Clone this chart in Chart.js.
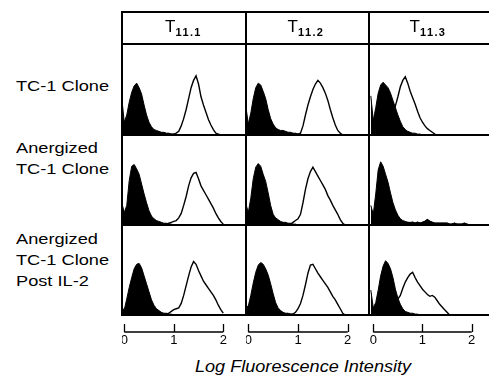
<!DOCTYPE html>
<html>
<head>
<meta charset="utf-8">
<script src="https://cdn.jsdelivr.net/npm/chart.js@4"></script>
<style>
  body { margin: 0; background: #fff; }
  #fig { position: relative; width: 489px; height: 383px; overflow: hidden; font-family: "Liberation Sans", Arial, sans-serif; color: #000; }
  .ln { position: absolute; background: #000; }
  .pan { position: absolute; }
  .hdr { position: absolute; top: 11px; height: 31px; line-height: 31px; text-align: center; font-size: 17px; }
  .hdr sub { font-size: 11px; font-weight: bold; letter-spacing: 1.4px; vertical-align: -4px; }
  .rlab { position: absolute; left: 16px; font-size: 14px; line-height: 21px; transform: scaleX(1.3); transform-origin: left center; white-space: nowrap; }
  #xtitle { position: absolute; top: 358px; left: 195px; font-size: 16px; font-style: italic; transform: scaleX(1.13); transform-origin: left center; white-space: nowrap; }
</style>
</head>
<body>
<div id="fig"></div>
<script>
// categories / labels
var colLabels = ['11.1', '11.2', '11.3'];
var rowLabels = [['TC-1 Clone'], ['Anergized', 'TC-1 Clone'], ['Anergized', 'TC-1 Clone', 'Post IL-2']];
var scaleTicks = [0, 1, 2];
var axisTitle = 'Log Fluorescence Intensity';

// log fluorescence bins (-0.05 .. 2.0), values are % of panel height; missing tail = 0
var bins = [-0.05, 0, 0.05, 0.1, 0.15, 0.2, 0.25, 0.3, 0.35, 0.4, 0.45, 0.5, 0.55, 0.6, 0.65, 0.7,
    0.75, 0.8, 0.85, 0.9, 0.95, 1.0, 1.05, 1.1, 1.15, 1.2, 1.25, 1.3, 1.35, 1.4, 1.45, 1.5, 1.55,
    1.6, 1.65, 1.7, 1.75, 1.8, 1.85, 1.9, 1.95, 2.0];

// control (filled) histograms
var ctrlR1C1 = [40, 14, 22, 36, 47, 54, 57, 52, 45, 33, 22, 14, 9, 6, 5, 4, 3, 3, 2, 2, 1, 1];
var ctrlR1C2 = [32, 12, 24, 40, 52, 57, 55, 48, 40, 28, 18, 12, 8, 6, 5, 5, 4, 3, 3, 2, 2, 1, 1];
var ctrlR1C3 = [43, 16, 30, 46, 55, 58, 55, 52, 46, 38, 30, 22, 15, 9, 6, 4, 3, 2, 2, 1, 1];
var ctrlR2C1 = [25, 14, 22, 50, 66, 68, 63, 57, 46, 35, 25, 16, 10, 7, 5, 4, 3, 2, 2, 1, 1];
var ctrlR2C2 = [24, 14, 30, 52, 65, 69, 66, 57, 49, 36, 22, 12, 8, 6, 4, 3, 3, 2, 2, 1, 1];
var ctrlR2C3 = [22, 12, 35, 62, 71, 66, 57, 48, 36, 25, 17, 11, 7, 5, 4, 3, 3, 3, 2, 3, 2, 3, 4, 6, 4,
    3, 2, 2, 2, 2, 2, 2, 1, 1, 2, 1, 1, 1, 2, 1];
var ctrlR3C1 = [8, 6, 18, 31, 42, 52, 57, 58, 53, 44, 35, 26, 17, 11, 7, 5, 3, 2, 2, 1, 1];
var ctrlR3C2 = [9, 10, 22, 36, 48, 56, 59, 57, 52, 45, 35, 24, 14, 8, 5, 3, 2, 2, 1, 1];
var ctrlR3C3 = [28, 8, 14, 28, 44, 55, 61, 58, 52, 42, 29, 19, 12, 7, 4, 3, 2, 2, 1, 1];

// T11 antibody (open) histograms
var stainR1C1 = [0, 0, 0, 0, 0, 0, 0, 0, 0, 0, 0, 1, 1, 1, 1, 1, 1, 1, 1, 1, 1, 1,
    2, 4, 10, 18, 28, 40, 52, 60, 65, 56, 42, 33, 25, 17, 11, 6, 2, 1];
var stainR1C2 = [0, 0, 0, 0, 0, 0, 0, 0, 0, 0, 0, 1, 1, 1, 1, 1, 1, 1, 1, 1, 1, 1,
    2, 10, 22, 33, 42, 50, 56, 60, 57, 52, 46, 38, 28, 19, 11, 5, 2];
var stainR1C3 = [0, 0, 1, 2, 3, 4, 6, 8, 14, 22, 32, 42, 53, 60, 64, 57, 48, 41, 34, 26, 19, 14,
    10, 7, 5, 3, 1];
var stainR2C1 = [0, 0, 0, 0, 0, 0, 0, 0, 0, 0, 0, 1, 1, 1, 1, 1, 1, 1, 1, 2, 3, 4,
    5, 8, 13, 22, 32, 44, 53, 58, 59, 52, 44, 39, 34, 29, 24, 19, 13, 8, 4, 1];
var stainR2C2 = [0, 0, 0, 0, 0, 0, 0, 0, 0, 0, 0, 1, 1, 1, 1, 1, 1, 1, 1, 3, 5, 7,
    12, 25, 40, 52, 60, 65, 60, 55, 50, 45, 40, 33, 28, 22, 17, 12, 6, 2];
var stainR2C3 = [0, 0, 0, 0, 0, 0, 0, 0, 0, 0, 0, 1, 2, 3, 3, 3, 2, 3, 2, 3, 2, 3,
    4, 6, 4, 3, 2, 2, 2, 2, 2, 2, 1, 1, 2, 1, 1, 1, 2, 1];
var stainR3C1 = [0, 0, 0, 0, 0, 0, 0, 0, 0, 0, 0, 1, 1, 1, 1, 1, 1, 1, 1, 2, 4, 6,
    7, 8, 13, 22, 33, 44, 54, 60, 57, 50, 44, 38, 34, 30, 26, 22, 17, 11, 6, 2];
var stainR3C2 = [0, 0, 0, 0, 0, 0, 0, 0, 0, 0, 0, 1, 1, 1, 1, 1, 1, 1, 1, 1, 3, 7,
    13, 22, 34, 47, 56, 57, 52, 47, 43, 39, 35, 31, 26, 21, 17, 12, 7, 2];
var stainR3C3 = [0, 0, 0, 0, 1, 1, 2, 3, 6, 10, 14, 18, 22, 30, 37, 42, 46, 48, 42, 37, 33, 29,
    26, 23, 21, 22, 20, 16, 12, 9, 6, 3];

var ctrl = [[ctrlR1C1, ctrlR1C2, ctrlR1C3], [ctrlR2C1, ctrlR2C2, ctrlR2C3], [ctrlR3C1, ctrlR3C2, ctrlR3C3]];
var stain = [[stainR1C1, stainR1C2, stainR1C3], [stainR2C1, stainR2C2, stainR2C3], [stainR3C1, stainR3C2, stainR3C3]];

// layout
var cols = [{ left: 122, w: 123, min: -0.046, max: 2.439 },
            { left: 246, w: 122, min: -0.046, max: 2.408 },
            { left: 369, w: 120, min: -0.087, max: 2.352 }];
var rows = [{ top: 44, h: 91 }, { top: 136, h: 89 }, { top: 226, h: 89 }];
var axisH = 40;

var fig = document.getElementById('fig');

function line(x, y, w, h) {
    var d = document.createElement('div');
    d.className = 'ln';
    d.style.left = x + 'px'; d.style.top = y + 'px';
    d.style.width = w + 'px'; d.style.height = h + 'px';
    fig.appendChild(d);
}

function pts(arr) {
    return bins.map(function (b, i) { return { x: b, y: arr[i] || 0 }; });
}

// bracket scale under bottom row
var bracket = {
    id: 'bracket',
    afterDraw: function (chart) {
        if (!chart.options.plugins.bracket.show) return;
        var xs = chart.scales.x, ctx = chart.ctx;
        var yb = chart.chartArea.bottom + 17;
        var a = xs.getPixelForValue(scaleTicks[0]);
        var b = xs.getPixelForValue(scaleTicks[scaleTicks.length - 1]);
        ctx.save();
        ctx.strokeStyle = '#000';
        ctx.lineWidth = 1.3;
        ctx.beginPath();
        ctx.moveTo(a, yb); ctx.lineTo(b, yb);
        scaleTicks.forEach(function (t) {
            var px = Math.round(xs.getPixelForValue(t)) + 0.5;
            ctx.moveTo(px, yb); ctx.lineTo(px, yb - 8);
        });
        ctx.stroke();
        ctx.restore();
    }
};

rows.forEach(function (r, ri) {
    cols.forEach(function (c, ci) {
        var bottom = ri === rows.length - 1;
        var cv = document.createElement('canvas');
        cv.width = c.w;
        cv.height = r.h + (bottom ? axisH : 0);
        cv.className = 'pan';
        cv.style.left = c.left + 'px';
        cv.style.top = r.top + 'px';
        fig.appendChild(cv);
        var xScale = {
            type: 'linear',
            min: c.min,
            max: c.max,
            display: bottom
        };
        if (bottom) {
            xScale.grid = { display: false, drawTicks: false };
            xScale.border = { display: false };
            xScale.afterFit = function (s) {
                s.height = axisH;
                s.paddingLeft = 0;
                s.paddingRight = 0;
            };
            xScale.ticks = {
                stepSize: 1,
                includeBounds: false,
                autoSkip: false,
                maxRotation: 0,
                padding: 18,
                color: '#000',
                font: { family: 'Liberation Sans', size: 13 },
                callback: function (v) { return scaleTicks.indexOf(v) >= 0 ? String(v) : ''; }
            };
        }
        new Chart(cv, {
            type: 'line',
            data: {
                datasets: [{
                    data: pts(ctrl[ri][ci]),
                    order: 0,
                    fill: 'origin',
                    backgroundColor: '#000',
                    borderColor: '#000',
                    borderWidth: 1,
                    pointRadius: 0,
                    tension: 0
                }, {
                    data: pts(stain[ri][ci]),
                    order: 1,
                    fill: false,
                    borderColor: '#000',
                    borderWidth: 1.4,
                    pointRadius: 0,
                    tension: 0
                }]
            },
            options: {
                responsive: false,
                maintainAspectRatio: false,
                animation: false,
                devicePixelRatio: 1,
                events: [],
                layout: { padding: 0 },
                plugins: { legend: { display: false }, tooltip: { enabled: false }, bracket: { show: bottom } },
                scales: {
                    x: xScale,
                    y: { min: 0, max: 100, display: false }
                }
            },
            plugins: [bracket]
        });
    });
});

// frame lines
line(121, 11, 368, 1.5);
line(121, 43, 368, 1.5);
rows.forEach(function (r) { line(121, r.top + r.h - 0.75, 368, 1.5); });
[121, 245, 368].forEach(function (x) { line(x, 11, 1.5, 304.5); });

// column headers
colLabels.forEach(function (t, i) {
    var d = document.createElement('div');
    d.className = 'hdr';
    d.style.left = (i === 0 ? 121 : cols[i].left - 1) + 'px';
    d.style.width = (i === 0 ? 125 : cols[i].w) + 'px';
    d.innerHTML = 'T<sub>' + t + '</sub>';
    fig.appendChild(d);
});

// row labels
var rowLabelTops = [76, 138, 229];
rowLabels.forEach(function (lines, i) {
    var d = document.createElement('div');
    d.className = 'rlab';
    d.style.top = rowLabelTops[i] + 'px';
    d.innerHTML = lines.join('<br>');
    fig.appendChild(d);
});

var tt = document.createElement('div');
tt.id = 'xtitle';
tt.textContent = axisTitle;
fig.appendChild(tt);
</script>
</body>
</html>
